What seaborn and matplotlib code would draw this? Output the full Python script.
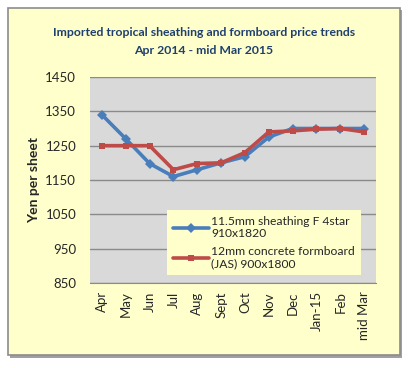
import matplotlib
matplotlib.use("Agg")
import matplotlib.pyplot as plt
import seaborn as sns
import pandas as pd
from matplotlib.patches import Rectangle

months = ["Apr", "May", "Jun", "Jul", "Aug", "Sept", "Oct", "Nov", "Dec", "Jan-15", "Feb", "mid Mar"]
sheathing = [1340, 1270, 1198, 1160, 1180, 1200, 1218, 1275, 1300, 1300, 1300, 1300]
formboard = [1250, 1250, 1250, 1180, 1198, 1200, 1230, 1290, 1293, 1298, 1300, 1290]
series_names = ["11.5mm sheathing F 4star\n910x1820", "12mm concrete formboard\n(JAS) 900x1800"]
y_ticks = [850, 950, 1050, 1150, 1250, 1350, 1450]

df = pd.DataFrame({"Month": months * 2,
                   "Price": sheathing + formboard,
                   "Series": [series_names[0]] * len(months) + [series_names[1]] * len(months)})

sns.set_style("white")
plt.rcParams["font.family"] = ["Lato", "DejaVu Sans"]

fig = plt.figure(figsize=(4.08, 3.68), dpi=100)
fig.patch.set_facecolor("white")
# outer chart frame with shadow
fig.patches.append(Rectangle((10 / 408, 1 - 358 / 368), 392 / 408, 348 / 368, transform=fig.transFigure,
                             facecolor="#a0a0a0", edgecolor="none", zorder=-10))
fig.patches.append(Rectangle((8 / 408, 1 - 355 / 368), 392 / 408, 347 / 368, transform=fig.transFigure,
                             facecolor="#FFFFCC", edgecolor="#8c8c8c", linewidth=1.2, zorder=-9))

ax = fig.add_axes([90 / 408, 1 - 283 / 368, 286 / 408, 206 / 368])
ax.set_zorder(1)
ax.set_facecolor("#D9D9D9")

palette = {series_names[0]: "#4A7EBB", series_names[1]: "#BE4B48"}
sns.lineplot(data=df, x="Month", y="Price", hue="Series", style="Series",
             markers={series_names[0]: "D", series_names[1]: "s"},
             dashes=False, palette=palette, linewidth=2.6, markersize=5,
             markeredgewidth=0, sort=False, ax=ax)

ax.set_ylim(850, 1450)
ax.set_yticks(y_ticks)
ax.set_xlim(-0.5, len(months) - 0.5)
ax.yaxis.grid(True, color="#8a8a8a", linewidth=1)
ax.set_axisbelow(True)
for s in ["top", "right", "left"]:
    ax.spines[s].set_visible(False)
ax.spines["bottom"].set_color("#8a8a8a")
ax.tick_params(axis="x", rotation=90, labelsize=9.5, length=0, pad=6)
ax.tick_params(axis="y", labelsize=9.5, length=0, pad=10)
ax.set_xlabel("")
ax.set_ylabel("Yen per sheet", fontsize=10, fontweight="bold")
ax.yaxis.set_label_coords(-0.175, 0.5)

leg = ax.legend(loc="lower left", bbox_to_anchor=(0.27, 0.04), frameon=True, fontsize=8.7,
                handlelength=3.0, handletextpad=0.2, borderpad=0.45, labelspacing=0.5,
                borderaxespad=0, fancybox=False)
leg.get_frame().set_facecolor("#FFFFCC")
leg.get_frame().set_edgecolor("none")
leg.get_frame().set_alpha(1)
for t in leg.get_texts():
    t.set_multialignment("left")

fig.text(0.5, 1 - 33 / 368, "Imported tropical sheathing and formboard price trends",
         ha="center", va="center", fontsize=8.8, fontweight="bold", color="#1F3F6E")
fig.text(0.5, 1 - 51 / 368, "Apr 2014 - mid Mar 2015",
         ha="center", va="center", fontsize=8.8, fontweight="bold", color="#1F3F6E")

fig.savefig("out.png", dpi=100)
